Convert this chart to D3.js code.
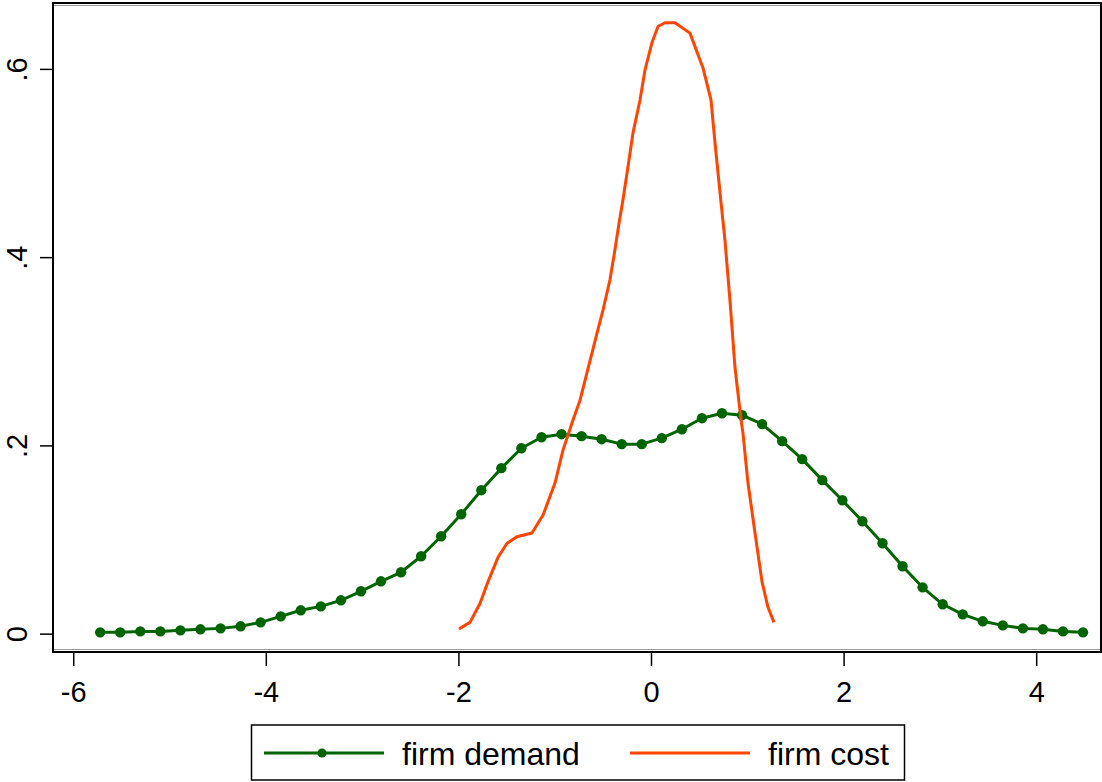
<!DOCTYPE html>
<html>
<head>
<meta charset="utf-8">
<script src="https://cdn.jsdelivr.net/npm/d3@7"></script>
<style>
  html, body { margin: 0; padding: 0; background: #fff; }
  svg { display: block; }
  text { font-family: "Liberation Sans", Arial, Helvetica, sans-serif; }
</style>
</head>
<body>
<svg id="chart" width="1102" height="782"></svg>
<script>
// ---- data ----
const demandX = [-5.720,-5.512,-5.303,-5.095,-4.887,-4.679,-4.470,-4.262,-4.054,-3.845,
  -3.637,-3.429,-3.220,-3.012,-2.804,-2.596,-2.387,-2.179,-1.971,-1.762,
  -1.554,-1.346,-1.137,-0.929,-0.721,-0.513,-0.304,-0.096,0.112,0.321,
  0.529,0.737,0.946,1.154,1.362,1.570,1.779,1.987,2.195,2.404,
  2.612,2.820,3.029,3.237,3.445,3.653,3.862,4.070,4.278,4.486];
const demandY = [0.0014,0.0014,0.0024,0.0024,0.0035,0.0046,0.0056,0.0078,0.0120,0.0184,
  0.0248,0.0290,0.0354,0.0450,0.0556,0.0652,0.0822,0.1035,0.1268,0.1524,
  0.1758,0.1970,0.2087,0.2119,0.2098,0.2066,0.2013,0.2013,0.2077,0.2172,
  0.2289,0.2342,0.2321,0.2226,0.2045,0.1854,0.1631,0.1417,0.1194,0.0960,
  0.0716,0.0492,0.0312,0.0205,0.0131,0.0088,0.0056,0.0046,0.0024,0.0014];
const costX = [-1.994,-1.880,-1.776,-1.693,-1.589,-1.495,-1.392,-1.236,-1.121,-0.997,
  -0.914,-0.810,-0.737,-0.685,-0.633,-0.561,-0.498,-0.426,-0.374,-0.332,
  -0.291,-0.239,-0.187,-0.114,-0.062,0.010,0.073,0.145,0.249,0.405,
  0.540,0.623,0.665,0.717,0.768,0.820,0.872,0.935,0.955,1.007,
  1.080,1.153,1.215,1.277];
const costY = [0.005,0.012,0.032,0.055,0.081,0.096,0.103,0.107,0.126,0.160,
  0.195,0.227,0.248,0.269,0.290,0.319,0.344,0.376,0.408,0.436,
  0.461,0.496,0.532,0.567,0.599,0.628,0.645,0.649,0.649,0.638,
  0.601,0.567,0.521,0.468,0.418,0.354,0.283,0.227,0.213,0.160,
  0.107,0.055,0.028,0.012];
const xTicks = [-6, -4, -2, 0, 2, 4];
const xTickLabels = ["-6", "-4", "-2", "0", "2", "4"];
const yTicks = [0, 0.2, 0.4, 0.6];
const yTickLabels = ["0", ".2", ".4", ".6"];
const seriesNames = ["firm demand", "firm cost"];
const seriesColors = ["#006400", "#ff4500"];

// ---- layout ----
const svg = d3.select("#chart");
const L = 53, T = 3, R = 1101, B = 652;
const x = d3.scaleLinear().domain([-6.21, 4.673]).range([L, R]);
const y = d3.scaleLinear().domain([-0.0195, 0.670]).range([B, T]);

// frame
svg.append("rect").attr("x", L).attr("y", T).attr("width", R - L).attr("height", B - T)
  .attr("fill", "none").attr("stroke", "#000").attr("stroke-width", 2);
svg.append("line").attr("x1", L + 1).attr("x2", R - 1).attr("y1", T + 2.5).attr("y2", T + 2.5)
  .attr("stroke", "#999").attr("stroke-width", 1);
svg.append("line").attr("x1", L + 1).attr("x2", R - 1).attr("y1", B - 2.5).attr("y2", B - 2.5)
  .attr("stroke", "#999").attr("stroke-width", 1);

// axes
const xAxis = d3.axisBottom(x).tickValues(xTicks)
  .tickFormat((d, i) => xTickLabels[i]).tickSize(14).tickSizeOuter(0);
const gx = svg.append("g").attr("transform", `translate(0,${B})`).call(xAxis);
gx.select(".domain").remove();
gx.selectAll(".tick line").attr("stroke", "#000").attr("stroke-width", 1.5);
gx.selectAll(".tick text").attr("y", 50).attr("dy", 0)
  .attr("font-size", 29).attr("fill", "#000")
  .style("font-family", '"Liberation Sans", Arial, sans-serif');

const yAxis = d3.axisLeft(y).tickValues(yTicks)
  .tickFormat((d, i) => yTickLabels[i]).tickSize(13).tickSizeOuter(0);
const gy = svg.append("g").attr("transform", `translate(${L},0)`).call(yAxis);
gy.select(".domain").remove();
gy.selectAll(".tick line").attr("stroke", "#000").attr("stroke-width", 1.5);
gy.selectAll(".tick text")
  .attr("x", null).attr("dy", 0)
  .attr("text-anchor", "middle")
  .attr("transform", "translate(-26,0) rotate(-90)")
  .attr("font-size", 29).attr("fill", "#000")
  .style("font-family", '"Liberation Sans", Arial, sans-serif');

// series
const demand = demandX.map((v, i) => [v, demandY[i]]);
const cost = costX.map((v, i) => [v, costY[i]]);
const line = d3.line().x(d => x(d[0])).y(d => y(d[1]));

svg.append("path").datum(demand).attr("d", line)
  .attr("fill", "none").attr("stroke", seriesColors[0]).attr("stroke-width", 3)
  .attr("stroke-linejoin", "round");
svg.append("g").selectAll("circle").data(demand).join("circle")
  .attr("cx", d => x(d[0])).attr("cy", d => y(d[1])).attr("r", 5.2)
  .attr("fill", seriesColors[0]);

svg.append("path").datum(cost).attr("d", line)
  .attr("fill", "none").attr("stroke", seriesColors[1]).attr("stroke-width", 3)
  .attr("stroke-linejoin", "round");

// legend
const lg = svg.append("g");
lg.append("rect").attr("x", 251.5).attr("y", 725).attr("width", 653).attr("height", 55)
  .attr("fill", "#fff").attr("stroke", "#000").attr("stroke-width", 1.5);
lg.append("line").attr("x1", 264).attr("x2", 384).attr("y1", 753).attr("y2", 753)
  .attr("stroke", seriesColors[0]).attr("stroke-width", 3);
lg.append("circle").attr("cx", 322).attr("cy", 753).attr("r", 4.5).attr("fill", seriesColors[0]);
lg.append("text").attr("x", 402).attr("y", 765).attr("font-size", 32).attr("fill", "#000")
  .text(seriesNames[0]);
lg.append("line").attr("x1", 630).attr("x2", 750).attr("y1", 753).attr("y2", 753)
  .attr("stroke", seriesColors[1]).attr("stroke-width", 3);
lg.append("text").attr("x", 768).attr("y", 765).attr("font-size", 32).attr("fill", "#000")
  .text(seriesNames[1]);
</script>
</body>
</html>
